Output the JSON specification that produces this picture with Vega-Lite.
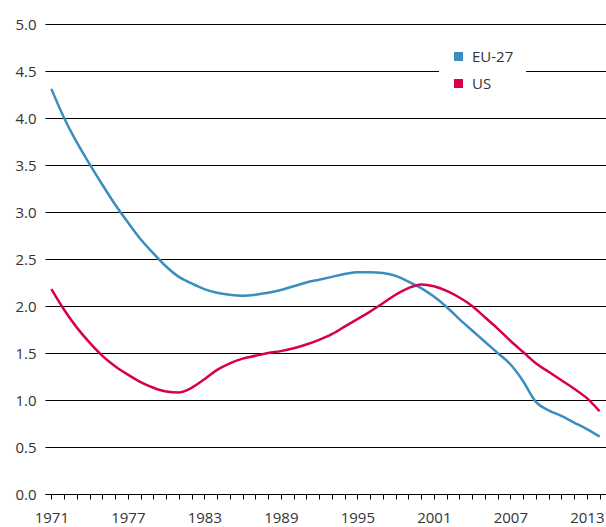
{
  "$schema": "https://vega.github.io/schema/vega-lite/v6.json",
  "width": 561,
  "height": 470,
  "autosize": "none",
  "padding": {"left": 45, "top": 24, "right": 0, "bottom": 33},
  "background": "white",
  "config": {
    "view": {"stroke": null},
    "font": "Open Sans"
  },
  "data": {
    "values": [
      {"year": 1971, "region": "EU-27", "value": 4.31},
      {"year": 1972, "region": "EU-27", "value": 4.00},
      {"year": 1973, "region": "EU-27", "value": 3.74},
      {"year": 1974, "region": "EU-27", "value": 3.51},
      {"year": 1975, "region": "EU-27", "value": 3.29},
      {"year": 1976, "region": "EU-27", "value": 3.08},
      {"year": 1977, "region": "EU-27", "value": 2.89},
      {"year": 1978, "region": "EU-27", "value": 2.71},
      {"year": 1979, "region": "EU-27", "value": 2.56},
      {"year": 1980, "region": "EU-27", "value": 2.42},
      {"year": 1981, "region": "EU-27", "value": 2.31},
      {"year": 1982, "region": "EU-27", "value": 2.24},
      {"year": 1983, "region": "EU-27", "value": 2.18},
      {"year": 1984, "region": "EU-27", "value": 2.14},
      {"year": 1985, "region": "EU-27", "value": 2.12},
      {"year": 1986, "region": "EU-27", "value": 2.11},
      {"year": 1987, "region": "EU-27", "value": 2.12},
      {"year": 1988, "region": "EU-27", "value": 2.14},
      {"year": 1989, "region": "EU-27", "value": 2.17},
      {"year": 1990, "region": "EU-27", "value": 2.21},
      {"year": 1991, "region": "EU-27", "value": 2.25},
      {"year": 1992, "region": "EU-27", "value": 2.28},
      {"year": 1993, "region": "EU-27", "value": 2.31},
      {"year": 1994, "region": "EU-27", "value": 2.34},
      {"year": 1995, "region": "EU-27", "value": 2.36},
      {"year": 1996, "region": "EU-27", "value": 2.36},
      {"year": 1997, "region": "EU-27", "value": 2.35},
      {"year": 1998, "region": "EU-27", "value": 2.32},
      {"year": 1999, "region": "EU-27", "value": 2.26},
      {"year": 2000, "region": "EU-27", "value": 2.19},
      {"year": 2001, "region": "EU-27", "value": 2.10},
      {"year": 2002, "region": "EU-27", "value": 1.99},
      {"year": 2003, "region": "EU-27", "value": 1.86},
      {"year": 2004, "region": "EU-27", "value": 1.74},
      {"year": 2005, "region": "EU-27", "value": 1.62},
      {"year": 2006, "region": "EU-27", "value": 1.50},
      {"year": 2007, "region": "EU-27", "value": 1.38},
      {"year": 2008, "region": "EU-27", "value": 1.20},
      {"year": 2009, "region": "EU-27", "value": 0.98},
      {"year": 2010, "region": "EU-27", "value": 0.89},
      {"year": 2011, "region": "EU-27", "value": 0.83},
      {"year": 2012, "region": "EU-27", "value": 0.76},
      {"year": 2013, "region": "EU-27", "value": 0.69},
      {"year": 2014, "region": "EU-27", "value": 0.61},
      {"year": 1971, "region": "US", "value": 2.18},
      {"year": 1972, "region": "US", "value": 1.96},
      {"year": 1973, "region": "US", "value": 1.77},
      {"year": 1974, "region": "US", "value": 1.61},
      {"year": 1975, "region": "US", "value": 1.47},
      {"year": 1976, "region": "US", "value": 1.36},
      {"year": 1977, "region": "US", "value": 1.27},
      {"year": 1978, "region": "US", "value": 1.19},
      {"year": 1979, "region": "US", "value": 1.13},
      {"year": 1980, "region": "US", "value": 1.09},
      {"year": 1981, "region": "US", "value": 1.08},
      {"year": 1982, "region": "US", "value": 1.13},
      {"year": 1983, "region": "US", "value": 1.22},
      {"year": 1984, "region": "US", "value": 1.32},
      {"year": 1985, "region": "US", "value": 1.39},
      {"year": 1986, "region": "US", "value": 1.44},
      {"year": 1987, "region": "US", "value": 1.47},
      {"year": 1988, "region": "US", "value": 1.50},
      {"year": 1989, "region": "US", "value": 1.52},
      {"year": 1990, "region": "US", "value": 1.55},
      {"year": 1991, "region": "US", "value": 1.59},
      {"year": 1992, "region": "US", "value": 1.64},
      {"year": 1993, "region": "US", "value": 1.70},
      {"year": 1994, "region": "US", "value": 1.78},
      {"year": 1995, "region": "US", "value": 1.86},
      {"year": 1996, "region": "US", "value": 1.94},
      {"year": 1997, "region": "US", "value": 2.03},
      {"year": 1998, "region": "US", "value": 2.12},
      {"year": 1999, "region": "US", "value": 2.19},
      {"year": 2000, "region": "US", "value": 2.23},
      {"year": 2001, "region": "US", "value": 2.21},
      {"year": 2002, "region": "US", "value": 2.16},
      {"year": 2003, "region": "US", "value": 2.09},
      {"year": 2004, "region": "US", "value": 2.00},
      {"year": 2005, "region": "US", "value": 1.88},
      {"year": 2006, "region": "US", "value": 1.76},
      {"year": 2007, "region": "US", "value": 1.63},
      {"year": 2008, "region": "US", "value": 1.51},
      {"year": 2009, "region": "US", "value": 1.39},
      {"year": 2010, "region": "US", "value": 1.30},
      {"year": 2011, "region": "US", "value": 1.21},
      {"year": 2012, "region": "US", "value": 1.12},
      {"year": 2013, "region": "US", "value": 1.02},
      {"year": 2014, "region": "US", "value": 0.88}
    ]
  },
  "mark": {"type": "line", "interpolate": "monotone", "strokeWidth": 2.5},
  "encoding": {
    "x": {
      "field": "year",
      "type": "quantitative",
      "scale": {"domain": [1970.5, 2014.5], "nice": false, "zero": false},
      "axis": {
        "title": null,
        "grid": false,
        "domain": true,
        "domainColor": "black",
        "domainWidth": 1.2,
        "ticks": true,
        "tickColor": "black",
        "tickSize": 5,
        "tickWidth": 1,
        "values": [1971,1972,1973,1974,1975,1976,1977,1978,1979,1980,1981,1982,1983,1984,1985,1986,1987,1988,1989,1990,1991,1992,1993,1994,1995,1996,1997,1998,1999,2000,2001,2002,2003,2004,2005,2006,2007,2008,2009,2010,2011,2012,2013,2014],
        "labelExpr": "(datum.value - 1971) % 6 === 0 ? '' + datum.value : ''",
        "labelFont": "Open Sans",
        "labelFontSize": 15,
        "labelColor": "#333333",
        "labelPadding": 11,
        "labelOverlap": false,
        "labelFlush": false
      }
    },
    "y": {
      "field": "value",
      "type": "quantitative",
      "scale": {"domain": [0, 5], "nice": false},
      "axis": {
        "title": null,
        "values": [0, 0.5, 1, 1.5, 2, 2.5, 3, 3.5, 4, 4.5, 5],
        "format": ".1f",
        "domain": false,
        "ticks": false,
        "grid": true,
        "gridColor": "black",
        "gridWidth": 1.2,
        "gridOpacity": 1,
        "labelFont": "Open Sans",
        "labelFontSize": 15,
        "labelColor": "#333333",
        "labelPadding": 9
      }
    },
    "color": {
      "field": "region",
      "type": "nominal",
      "scale": {"domain": ["EU-27", "US"], "range": ["#3a8dc1", "#d8004a"]},
      "legend": {
        "title": null,
        "orient": "none",
        "legendX": 394,
        "legendY": 13,
        "fillColor": "white",
        "padding": 12,
        "symbolType": "square",
        "symbolSize": 81,
        "symbolStrokeWidth": 0,
        "labelFont": "Open Sans",
        "labelFontSize": 15,
        "labelColor": "#333333",
        "labelOffset": 6,
        "rowPadding": 11,
        "labelExpr": "datum.label + '\u2003\u2003\u2003'",
        "encode": {
          "symbols": {
            "update": {
              "fill": {"scale": "color", "field": "value"},
              "stroke": {"value": "transparent"}
            }
          }
        }
      }
    }
  }
}
